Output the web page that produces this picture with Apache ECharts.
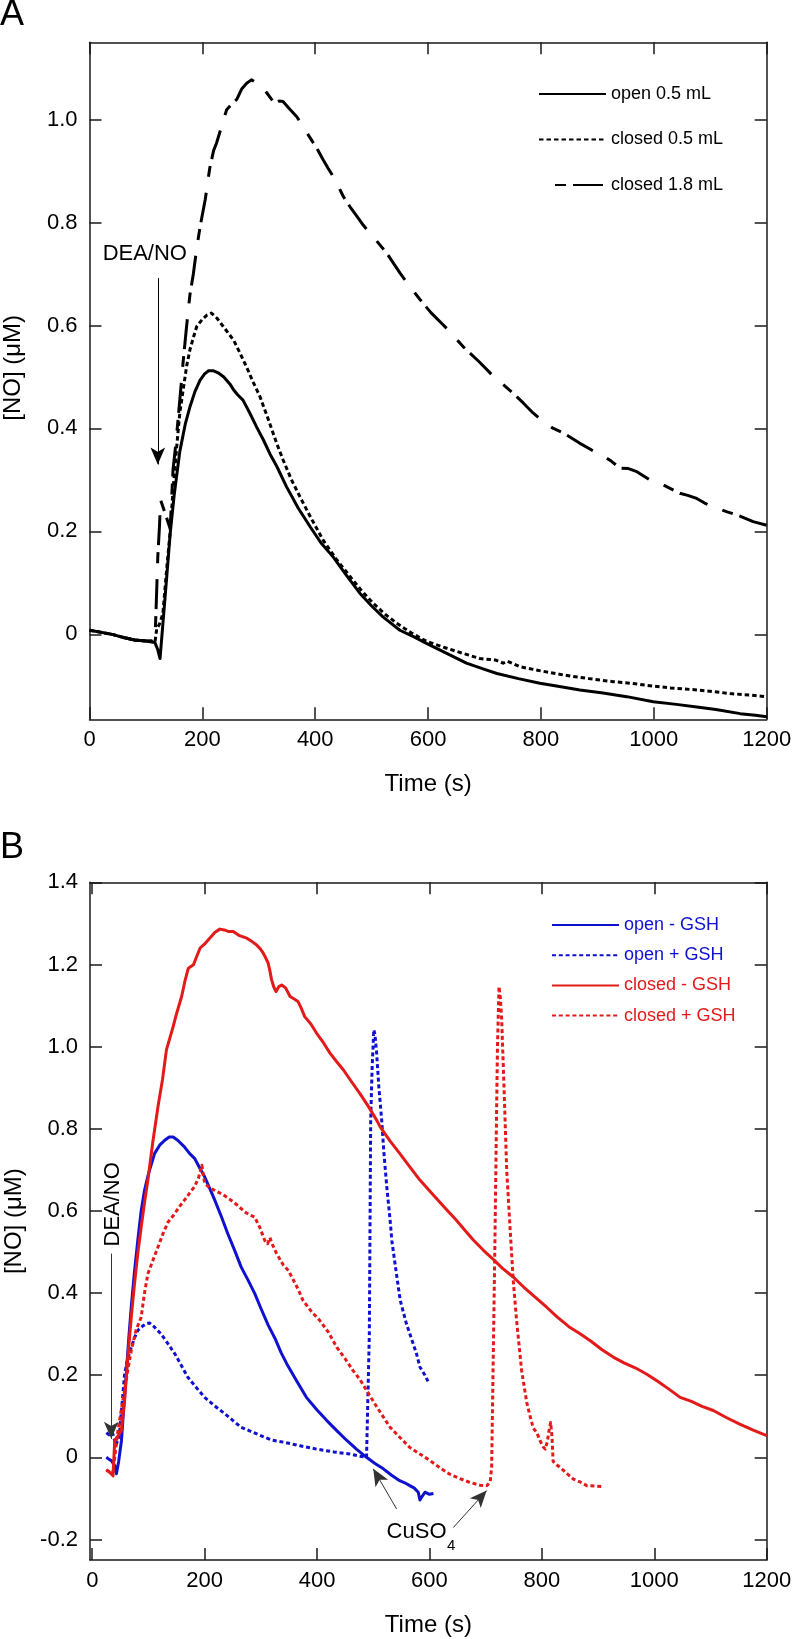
<!DOCTYPE html>
<html>
<head>
<meta charset="utf-8">
<script src="https://cdn.jsdelivr.net/npm/echarts/dist/echarts.min.js"></script>
<style>
html,body{margin:0;padding:0;background:#fff;}
#chart{width:792px;height:1639px;}
</style>
</head>
<body>
<div id="chart"></div>
<script>
// ---------------- DATA ----------------
// Panel A : [time (s), NO (µM)]
const openA = [[0,0.008],[20,0.004],[40,0.0],[60,-0.006],[80,-0.011],[100,-0.013],[116,-0.016],[121,-0.03],[125,-0.047],[130,0.02],[136,0.1],[143,0.196],[150,0.27],[160,0.355],[170,0.41],[178,0.442],[187,0.472],[196,0.494],[204,0.506],[211,0.512],[220,0.512],[228,0.508],[238,0.5],[249,0.486],[256,0.474],[262,0.466],[272,0.455],[284,0.43],[296,0.403],[308,0.378],[320,0.35],[332,0.326],[349,0.287],[370,0.245],[391,0.209],[410,0.178],[432,0.15],[455,0.115],[479,0.08],[500,0.055],[520,0.034],[550,0.008],[575,-0.005],[598,-0.018],[633,-0.037],[668,-0.056],[700,-0.068],[722,-0.076],[760,-0.086],[798,-0.095],[830,-0.101],[869,-0.108],[910,-0.114],[952,-0.121],[999,-0.131],[1040,-0.136],[1076,-0.141],[1110,-0.146],[1153,-0.154],[1180,-0.157],[1200,-0.16]];
const closedA05 = [[0,0.008],[20,0.004],[40,0.0],[60,-0.006],[80,-0.011],[100,-0.013],[116,-0.015],[119,0.01],[124,0.02],[130,0.04],[137,0.13],[143,0.2],[148,0.28],[155,0.37],[160,0.43],[166,0.475],[172,0.52],[178,0.553],[185,0.58],[190,0.598],[200,0.612],[208,0.62],[216,0.624],[226,0.614],[237,0.598],[246,0.585],[255,0.572],[266,0.548],[278,0.52],[290,0.49],[302,0.462],[316,0.42],[332,0.37],[343,0.339],[358,0.3],[373,0.267],[393,0.225],[414,0.183],[438,0.145],[462,0.112],[482,0.085],[503,0.06],[525,0.038],[544,0.022],[570,0.003],[598,-0.014],[633,-0.027],[662,-0.037],[692,-0.047],[720,-0.05],[733,-0.056],[740,-0.052],[763,-0.063],[800,-0.071],[840,-0.079],[885,-0.086],[928,-0.092],[960,-0.095],[987,-0.099],[1030,-0.104],[1076,-0.108],[1105,-0.111],[1135,-0.115],[1170,-0.118],[1200,-0.121]];
const closedA18 = [[0,0.008],[20,0.004],[40,0.0],[60,-0.006],[80,-0.011],[100,-0.013],[116,-0.012],[118,0.05],[121,0.15],[124,0.21],[126,0.261],[134,0.235],[143,0.205],[148,0.32],[153,0.37],[160,0.455],[166,0.53],[172,0.598],[178,0.66],[184,0.7],[190,0.75],[196,0.792],[205,0.844],[213,0.905],[220,0.94],[225,0.954],[235,0.99],[243,1.019],[252,1.03],[261,1.039],[270,1.06],[279,1.071],[287,1.077],[295,1.072],[302,1.068],[314,1.052],[322,1.04],[329,1.032],[336,1.036],[343,1.035],[355,1.02],[367,1.006],[382,0.98],[397,0.954],[405,0.94],[414,0.922],[423,0.905],[432,0.889],[441,0.87],[450,0.85],[462,0.83],[474,0.812],[485,0.795],[497,0.779],[512,0.76],[527,0.74],[550,0.702],[568,0.675],[586,0.65],[605,0.625],[627,0.601],[645,0.58],[662,0.559],[690,0.53],[716,0.501],[733,0.485],[751,0.468],[769,0.449],[786,0.43],[804,0.413],[822,0.4],[840,0.391],[869,0.371],[890,0.358],[910,0.347],[925,0.336],[940,0.323],[955,0.322],[970,0.316],[993,0.3],[1017,0.29],[1046,0.274],[1060,0.27],[1076,0.264],[1090,0.255],[1105,0.248],[1130,0.238],[1147,0.232],[1176,0.219],[1200,0.212]];

// Panel B : [time (s), NO (µM)]
const openMinusGSH = [[25,0.0],[30,-0.005],[34,-0.008],[40,-0.02],[43,-0.04],[47,-0.01],[52,0.041],[56,0.12],[60.5,0.203],[65,0.29],[69.4,0.366],[75,0.45],[81,0.528],[87,0.6],[93,0.65],[100,0.69],[111,0.74],[120,0.76],[129,0.772],[137,0.78],[144,0.78],[152,0.772],[164,0.756],[173,0.74],[182,0.728],[191,0.705],[200,0.683],[209,0.655],[218,0.626],[230,0.585],[241,0.545],[253,0.505],[265,0.463],[277,0.432],[289,0.399],[300,0.363],[313,0.322],[325,0.29],[336,0.255],[346,0.228],[364,0.185],[381,0.146],[400,0.115],[417,0.09],[435,0.065],[453,0.041],[470,0.02],[488,0.0],[503,-0.015],[518,-0.028],[532,-0.043],[547,-0.057],[556,-0.062],[565,-0.069],[573,-0.075],[580,-0.085],[583,-0.104],[587,-0.095],[592,-0.085],[600,-0.09],[607,-0.088]];
const openPlusGSH = [[25,0.06],[30,0.055],[36,0.06],[42,0.03],[48,0.05],[53,0.13],[57.6,0.203],[63,0.24],[69.4,0.268],[75,0.29],[81,0.309],[90,0.32],[96,0.325],[102,0.327],[110,0.318],[122,0.301],[134,0.278],[147,0.252],[158,0.225],[170,0.195],[185,0.17],[200,0.146],[218,0.125],[236,0.106],[250,0.09],[265,0.073],[286,0.061],[306,0.049],[320,0.042],[340,0.037],[370,0.028],[399,0.02],[430,0.013],[458,0.008],[475,0.003],[488,0.0],[491,0.0],[493,0.3],[495.4,0.821],[498,0.95],[501,1.041],[503,1.03],[506,0.984],[510,0.9],[515,0.821],[519,0.74],[524,0.659],[530,0.577],[533,0.528],[542,0.439],[548,0.382],[559,0.325],[565,0.301],[577,0.252],[583,0.22],[592,0.2],[598,0.183]];
const closedMinusGSH = [[25,-0.032],[30,-0.035],[37,-0.045],[40,0.041],[45,0.05],[51.6,0.065],[57.6,0.138],[63,0.24],[69.4,0.341],[75,0.42],[81,0.496],[87,0.56],[93,0.62],[99,0.675],[108,0.77],[117,0.854],[125,0.92],[132,0.992],[144,1.049],[150,1.08],[159,1.122],[165,1.16],[171,1.191],[180,1.199],[186,1.22],[192,1.24],[200,1.25],[209,1.264],[218,1.278],[227,1.286],[235,1.284],[243,1.28],[251,1.28],[262,1.27],[275,1.264],[285,1.255],[292,1.248],[299,1.238],[304,1.228],[309,1.215],[313,1.203],[316,1.185],[319,1.163],[323,1.145],[327,1.134],[332,1.146],[337,1.15],[344,1.143],[352,1.122],[360,1.115],[366,1.11],[372,1.093],[378,1.073],[389,1.055],[399,1.033],[411,1.01],[423,0.984],[435,0.963],[447,0.943],[461,0.915],[476,0.886],[491,0.855],[506,0.821],[512,0.805],[530,0.77],[547,0.74],[565,0.707],[583,0.675],[606,0.64],[631,0.602],[648,0.577],[663,0.553],[678,0.529],[696,0.504],[712,0.484],[730,0.46],[749,0.439],[768,0.414],[788,0.39],[808,0.366],[827,0.342],[848,0.318],[868,0.301],[888,0.282],[907,0.262],[927,0.244],[946,0.23],[966,0.218],[986,0.203],[1006,0.185],[1026,0.166],[1046,0.146],[1066,0.136],[1085,0.124],[1105,0.114],[1128,0.097],[1152,0.081],[1176,0.066],[1200,0.053]];
const closedPlusGSH = [[25,-0.03],[30,-0.035],[36,-0.04],[40,0.0],[45.7,0.065],[51,0.11],[57.6,0.163],[63,0.21],[69.4,0.26],[78,0.31],[87,0.341],[93,0.4],[99,0.447],[108,0.48],[117,0.512],[126,0.545],[135,0.573],[145,0.59],[155,0.61],[164,0.626],[174,0.645],[182,0.659],[189,0.68],[195,0.711],[198,0.685],[200,0.667],[210,0.655],[218,0.65],[232,0.64],[247,0.626],[260,0.612],[271,0.598],[280,0.59],[289,0.585],[298,0.56],[307,0.528],[312,0.52],[316,0.535],[320,0.52],[328,0.496],[340,0.468],[349,0.455],[358,0.431],[366,0.41],[375,0.382],[390,0.355],[405,0.333],[420,0.305],[435,0.268],[450,0.24],[464,0.211],[476,0.19],[488,0.163],[503,0.13],[518,0.098],[530,0.073],[547,0.049],[565,0.024],[583,0.008],[601,-0.008],[618,-0.025],[636,-0.041],[654,-0.052],[672,-0.061],[690,-0.068],[702,-0.069],[708,-0.06],[710.6,-0.024],[713,0.2],[716.5,0.528],[719,0.8],[721,1.0],[723.7,1.146],[726,1.12],[728.5,1.065],[732.6,0.902],[735,0.8],[737.4,0.699],[743.3,0.56],[749,0.431],[755,0.333],[764,0.211],[773,0.134],[779,0.1],[784.7,0.071],[791,0.06],[796.6,0.041],[802,0.026],[806,0.02],[810,0.04],[812,0.06],[815.6,0.085],[818,0.05],[820,-0.01],[826,-0.018],[832,-0.024],[845,-0.04],[856,-0.053],[868,-0.06],[880,-0.069],[895,-0.07],[909,-0.071]];

// Tick values
const xTicks = [0,200,400,600,800,1000,1200];
const yTicksA = [0,0.2,0.4,0.6,0.8,1.0];
const yTicksB = [-0.2,0,0.2,0.4,0.6,0.8,1.0,1.2,1.4];

// ---------------- STYLE ----------------
const FONT = 'Liberation Sans, Arial, Helvetica, sans-serif';
const BLUE = '#1010d0';
const RED = '#e41a1a';
const AXC = '#1a1a1a';
const DOT = [4.5, 3];
const LONGDASH = [11, 7, 30, 16];

const fmtY = v => (Math.abs(v) < 1e-9 ? '0' : v.toFixed(1));
const fmtX = v => String(Math.round(v));

function xAxisDef(gridIndex, min, pos, showLabel) {
  return {
    type: 'value', gridIndex, min, max: 1200, position: pos,
    name: showLabel ? 'Time (s)' : '', nameLocation: 'middle', nameGap: 53,
    nameTextStyle: {fontSize: 24, color: '#000', fontFamily: FONT},
    axisLine: {show: true, onZero: false, lineStyle: {color: AXC, width: 1.5}},
    axisTick: {show: true, inside: true, length: 12, customValues: xTicks, lineStyle: {color: AXC, width: 1.5}},
    axisLabel: {show: showLabel, customValues: xTicks, margin: 10, fontSize: 22, color: '#000', fontFamily: FONT, formatter: fmtX},
    splitLine: {show: false}
  };
}
function yAxisDef(gridIndex, min, max, ticks, pos, showLabel, pad) {
  return {
    type: 'value', gridIndex, min, max, position: pos,
    name: showLabel ? '[NO] (\u03bcM)' : '', nameLocation: 'middle', nameGap: 64,
    nameTextStyle: {fontSize: 24, color: '#000', fontFamily: FONT, padding: pad},
    axisLine: {show: true, onZero: false, lineStyle: {color: AXC, width: 1.5}},
    axisTick: {show: true, inside: true, length: 12, customValues: ticks, lineStyle: {color: AXC, width: 1.5}},
    axisLabel: {show: showLabel, customValues: ticks, margin: 12, fontSize: 22, color: '#000', fontFamily: FONT, formatter: fmtY},
    splitLine: {show: false}
  };
}

function lineSeries(name, data, color, dash, xi, yi, extra, dashOffset) {
  return Object.assign({
    name, type: 'line', data, xAxisIndex: xi, yAxisIndex: yi,
    showSymbol: false, symbol: 'none', smooth: false, animation: false,
    lineStyle: {color, width: 3, type: dash, dashOffset: dashOffset || 0, cap: 'butt', join: 'round'},
    itemStyle: {color}
  }, extra || {});
}

function textPoint(text, coord, size, rotate) {
  return {
    coord, symbol: 'circle', symbolSize: 0,
    label: {show: true, position: 'inside', formatter: text, fontSize: size, color: '#000', fontFamily: FONT, rotate: rotate || 0}
  };
}

const arrowLine = (color) => ({
  silent: true, animation: false, symbol: ['none', 'arrow'], symbolSize: [11, 17],
  lineStyle: {color, width: 1, type: 'solid'}, label: {show: false}, emphasis: {disabled: true}
});

const option = {
  animation: false,
  backgroundColor: '#fff',
  textStyle: {fontFamily: FONT},
  title: [
    {text: 'A', left: 0, top: -3, padding: 0, textStyle: {fontSize: 36, fontWeight: 'normal', color: '#000', fontFamily: FONT}},
    {text: 'B', left: 0, top: 830, padding: 0, textStyle: {fontSize: 36, fontWeight: 'normal', color: '#000', fontFamily: FONT}}
  ],
  grid: [
    {left: 89.5, top: 42.3, width: 677.2, height: 677, containLabel: false, outerBoundsMode: 'none'},
    {left: 90, top: 882.3, width: 676.7, height: 677.7, containLabel: false, outerBoundsMode: 'none'}
  ],
  legend: [
    {
      data: ['open 0.5 mL', 'closed 0.5 mL', 'closed 1.8 mL'],
      orient: 'vertical', left: 533, top: 79, itemWidth: 67, itemHeight: 14, itemGap: 25.5,
      itemStyle: {opacity: 0},
      selectedMode: false, textStyle: {fontSize: 18, color: '#000', fontFamily: FONT, lineHeight: 20}
    },
    {
      data: [
        {name: 'open - GSH', textStyle: {color: BLUE}},
        {name: 'open + GSH', textStyle: {color: BLUE}},
        {name: 'closed - GSH', textStyle: {color: RED}},
        {name: 'closed + GSH', textStyle: {color: RED}}
      ],
      orient: 'vertical', left: 546, top: 910, itemWidth: 67, itemHeight: 14, itemGap: 10.2,
      itemStyle: {opacity: 0},
      selectedMode: false, textStyle: {fontSize: 18, fontFamily: FONT, lineHeight: 20}
    }
  ],
  xAxis: [
    xAxisDef(0, 0, 'bottom', true),
    xAxisDef(0, 0, 'top', false),
    xAxisDef(1, -4, 'bottom', true),
    xAxisDef(1, -4, 'top', false)
  ],
  yAxis: [
    yAxisDef(0, -0.165, 1.15, yTicksA, 'left', true, [0, 0, 0, 26]),
    yAxisDef(0, -0.165, 1.15, yTicksA, 'right', false, 0),
    yAxisDef(1, -0.25, 1.4, yTicksB, 'left', true, 0),
    yAxisDef(1, -0.25, 1.4, yTicksB, 'right', false, 0)
  ],
  series: [
    lineSeries('open 0.5 mL', openA, '#000', 'solid', 0, 0, {
      markLine: Object.assign(arrowLine('#000'), {data: [[{coord: [121, 0.692]}, {coord: [121, 0.33]}]]}),
      markPoint: {silent: true, animation: false, data: [textPoint('DEA/NO', [98, 0.739], 22)]}
    }),
    lineSeries('closed 0.5 mL', closedA05, '#000', DOT, 0, 0),
    lineSeries('closed 1.8 mL', closedA18, '#000', LONGDASH, 0, 0, null, 48),
    lineSeries('open - GSH', openMinusGSH, BLUE, 'solid', 2, 2, {
      markLine: Object.assign(arrowLine('#333'), {data: [
        [{coord: [33.8, 0.496]}, {coord: [33.8, 0.045]}],
        [{coord: [541.6, -0.126]}, {coord: [500, -0.028]}],
        [{coord: [642.4, -0.171]}, {coord: [701.8, -0.081]}]
      ]}),
      markPoint: {silent: true, animation: false, data: [
        textPoint('DEA/NO', [36.8, 0.616], 22, 90),
        textPoint('CuSO', [577, -0.181], 22),
        textPoint('4', [638.5, -0.216], 15)
      ]}
    }),
    lineSeries('open + GSH', openPlusGSH, BLUE, [4, 2.8], 2, 2),
    lineSeries('closed - GSH', closedMinusGSH, RED, 'solid', 2, 2),
    lineSeries('closed + GSH', closedPlusGSH, RED, [4, 2.8], 2, 2)
  ]
};

const chart = echarts.init(document.getElementById('chart'), null, {renderer: 'canvas'});
chart.setOption(option);
</script>
</body>
</html>
